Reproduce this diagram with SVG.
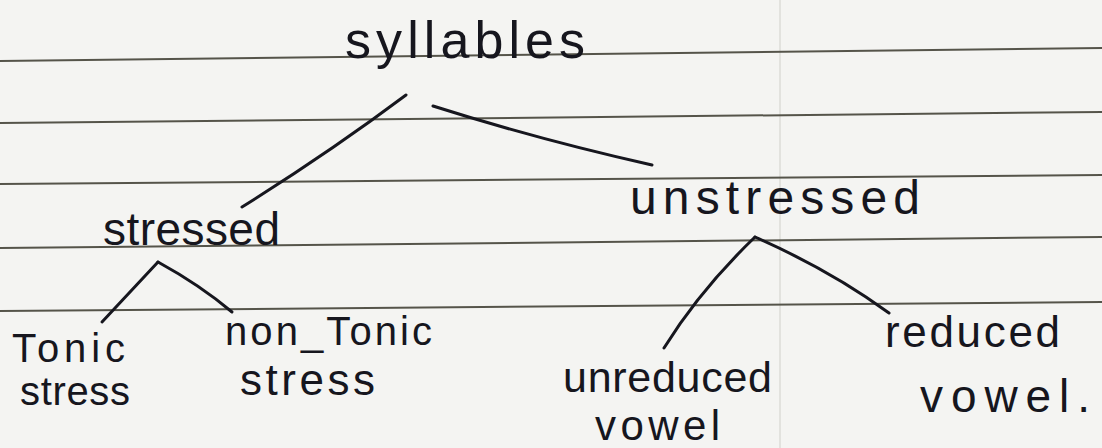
<svg xmlns="http://www.w3.org/2000/svg" width="1102" height="448" viewBox="0 0 1102 448">
  <style>
    .paper { fill: #f4f4f2; }
    .rule { stroke: #55544a; stroke-width: 2; fill: none; }
    .faint { stroke: #e2e2de; stroke-width: 2; fill: none; }
    .lbl { font-family: "Liberation Sans", "DejaVu Sans", sans-serif; fill: #16161e; }
    .edge { stroke: #16161e; stroke-width: 3; fill: none; stroke-linecap: round; }
  </style>
  <rect class="paper" x="0" y="0" width="1102" height="448"/>
  <g id="paper-lines">
    <line class="faint" x1="780" y1="0" x2="780" y2="448"/>
    <line class="rule" x1="0" y1="61" x2="1102" y2="48"/>
    <line class="rule" x1="0" y1="123" x2="1102" y2="112"/>
    <line class="rule" x1="0" y1="184" x2="1102" y2="175"/>
    <line class="rule" x1="0" y1="248" x2="1102" y2="237"/>
    <line class="rule" x1="0" y1="311" x2="1102" y2="302"/>
  </g>
  <g id="connectors">
    <path class="edge" d="M406,95 Q330,152 242,207"/>
    <path class="edge" d="M433,106 Q540,140 652,165"/>
    <path class="edge" d="M158,262 L102,322"/>
    <path class="edge" d="M158,262 Q200,285 232,312"/>
    <path class="edge" d="M755,237 Q700,290 664,348"/>
    <path class="edge" d="M755,237 Q830,270 889,313"/>
  </g>
  <g id="node-syllables">
    <text class="lbl" x="345" y="58" font-size="52" textLength="240" lengthAdjust="spacing">syllables</text>
  </g>
  <g id="node-stressed">
    <text class="lbl" x="103" y="245" font-size="46" textLength="177" lengthAdjust="spacing">stressed</text>
  </g>
  <g id="node-unstressed">
    <text class="lbl" x="630" y="214" font-size="48" textLength="290" lengthAdjust="spacing">unstressed</text>
  </g>
  <g id="node-tonic-stress">
    <text class="lbl" x="12" y="362" font-size="40" textLength="113" lengthAdjust="spacing">Tonic</text>
    <text class="lbl" x="20" y="405" font-size="40" textLength="110" lengthAdjust="spacing">stress</text>
  </g>
  <g id="node-non-tonic-stress">
    <text class="lbl" x="225" y="345" font-size="40" textLength="207" lengthAdjust="spacing">non_Tonic</text>
    <text class="lbl" x="240" y="395" font-size="44" textLength="135" lengthAdjust="spacing">stress</text>
  </g>
  <g id="node-unreduced-vowel">
    <text class="lbl" x="563" y="392" font-size="43" textLength="209" lengthAdjust="spacing">unreduced</text>
    <text class="lbl" x="595" y="440" font-size="42" textLength="125" lengthAdjust="spacing">vowel</text>
  </g>
  <g id="node-reduced-vowel">
    <text class="lbl" x="885" y="347" font-size="44" textLength="175" lengthAdjust="spacing">reduced</text>
    <text class="lbl" x="920" y="412" font-size="46" textLength="170" lengthAdjust="spacing">vowel.</text>
  </g>
</svg>
